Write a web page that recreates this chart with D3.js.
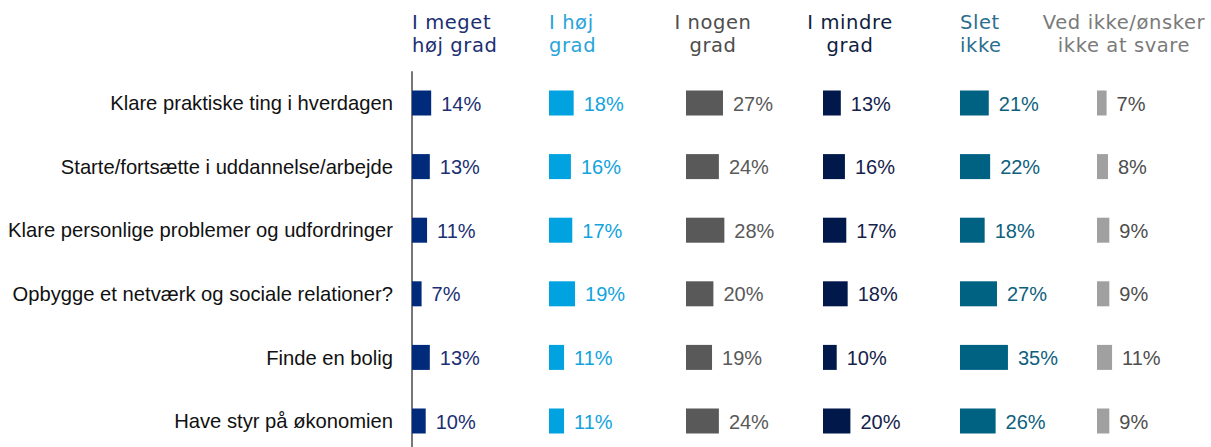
<!DOCTYPE html>
<html>
<head>
<meta charset="utf-8">
<script src="https://cdn.jsdelivr.net/npm/d3@7"></script>
<style>
  html, body { margin: 0; padding: 0; background: #ffffff; }
  svg { display: block; }
</style>
</head>
<body>
<svg id="chart" width="1211" height="447"></svg>
<script>
// Row categories (statements)
const categories = [
  "Klare praktiske ting i hverdagen",
  "Starte/fortsætte i uddannelse/arbejde",
  "Klare personlige problemer og udfordringer",
  "Opbygge et netværk og sociale relationer?",
  "Finde en bolig",
  "Have styr på økonomien"
];

// Answer options (columns) and their two-line headers
const seriesKeys = ["meget", "hoej", "nogen", "mindre", "slet", "vedikke"];
const seriesHeaders = [
  ["I meget", "høj grad"],
  ["I høj", "grad"],
  ["I nogen", "grad"],
  ["I mindre", "grad"],
  ["Slet", "ikke"],
  ["Ved ikke/ønsker", "ikke at svare"]
];

// Percent values per answer option, in row order
const valuesMeget   = [14, 13, 11, 7, 13, 10];
const valuesHoej    = [18, 16, 17, 19, 11, 11];
const valuesNogen   = [27, 24, 28, 20, 19, 24];
const valuesMindre  = [13, 16, 17, 18, 10, 20];
const valuesSlet    = [21, 22, 18, 27, 35, 26];
const valuesVedIkke = [7, 8, 9, 9, 11, 9];

const seriesValues = [valuesMeget, valuesHoej, valuesNogen, valuesMindre, valuesSlet, valuesVedIkke];

// Styling per column
const barColors    = ["#002A7A", "#00A2DF", "#595959", "#00184A", "#006283", "#A0A0A0"];
const labelColors  = ["#1B2F72", "#12A3DD", "#595959", "#14224A", "#0E5F7D", "#4D4D4D"];
const headerColors = ["#1B2F72", "#2AA3DA", "#4D4D4D", "#101D40", "#2C6E8E", "#7A7A7A"];
const headerAnchor = ["start", "start", "middle", "middle", "start", "middle"];

const svg = d3.select("#chart");

const colStart = 412, colStep = 137;
const x = d3.scaleBand()
  .domain(seriesKeys)
  .range([colStart, colStart + colStep * seriesKeys.length])
  .padding(0);

// bar length inside each column: 0–100 %
const w = d3.scaleLinear().domain([0, 100]).range([0, x.bandwidth()]);

const y = d3.scaleBand()
  .domain(categories)
  .range([71.2, 71.2 + 63.6 * categories.length])
  .padding(0);

const barH = 25;

// Category labels on the left
const yAxis = d3.axisLeft(y).tickSize(0).tickPadding(0);
const gy = svg.append("g")
  .attr("transform", `translate(393,0)`)
  .call(yAxis);
gy.select(".domain").remove();
gy.selectAll("text")
  .attr("font-family", "'Liberation Sans', Arial, sans-serif")
  .attr("font-size", 20.2)
  .attr("fill", "#111111")
  .attr("dy", "0.36em");

// Vertical baseline
svg.append("line")
  .attr("x1", colStart).attr("x2", colStart)
  .attr("y1", y.range()[0]).attr("y2", 447)
  .attr("stroke", "#777777")
  .attr("stroke-width", 2);

// Column headers
seriesKeys.forEach((key, i) => {
  const anchor = headerAnchor[i];
  const hx = anchor === "middle" ? x(key) + 27 : x(key);
  const t = svg.append("text")
    .attr("font-family", "'DejaVu Sans', Verdana, sans-serif")
    .attr("font-size", 19.5)
    .attr("letter-spacing", 0.6)
    .attr("fill", headerColors[i])
    .attr("text-anchor", anchor);
  seriesHeaders[i].forEach((line, j) => {
    t.append("tspan")
      .attr("x", hx)
      .attr("y", 28.5 + j * 23.8)
      .text(line);
  });
});

// Bars and value labels
seriesKeys.forEach((key, i) => {
  const g = svg.append("g");
  const vals = seriesValues[i];
  g.selectAll("rect")
    .data(vals)
    .join("rect")
    .attr("x", x(key))
    .attr("y", (d, r) => y(categories[r]) + y.bandwidth() / 2 - barH / 2)
    .attr("width", d => w(d))
    .attr("height", barH)
    .attr("fill", barColors[i]);
  g.selectAll("text")
    .data(vals)
    .join("text")
    .attr("x", d => x(key) + w(d) + 10)
    .attr("y", (d, r) => y(categories[r]) + y.bandwidth() / 2 + 7.5)
    .attr("font-family", "'Liberation Sans', Arial, sans-serif")
    .attr("font-size", 20)
    .attr("fill", labelColors[i])
    .text(d => d + "%");
});
</script>
</body>
</html>
